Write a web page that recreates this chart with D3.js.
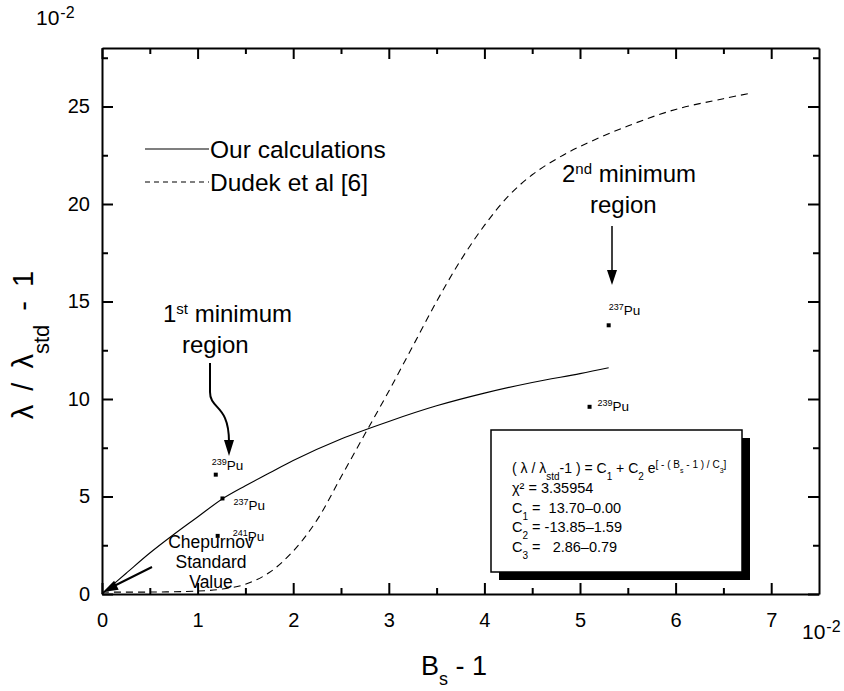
<!DOCTYPE html>
<html>
<head>
<meta charset="utf-8">
<script src="https://cdn.jsdelivr.net/npm/d3@7"></script>
<style>
  body { margin: 0; background: #fff; }
  text { font-family: "Liberation Sans", Arial, Helvetica, sans-serif; fill: #000; }
</style>
</head>
<body>
<div id="chart"></div>
<script>
// our calculations (solid)
const calcX = [0, 0.25, 0.5, 0.75, 1, 1.25, 1.5, 1.75, 2, 2.5, 3, 3.5, 4, 4.5, 5, 5.3];
const calcY = [0, 1.05, 2.1, 3.05, 3.95, 4.85, 5.55, 6.2, 6.85, 7.95, 8.85, 9.65, 10.3, 10.85, 11.3, 11.6];

// Dudek et al [6] (dashed)
const dudekX = [0, 0.5, 1, 1.25, 1.5, 1.75, 2, 2.25, 2.5, 2.75, 3, 3.25, 3.5, 3.75, 4, 4.25, 4.5, 4.75, 5, 5.5, 6, 6.5, 6.8];
const dudekY = [0.1, 0.1, 0.15, 0.25, 0.5, 1.1, 2.2, 3.8, 6.0, 8.2, 10.4, 12.7, 15.0, 17.1, 18.9, 20.4, 21.5, 22.3, 22.95, 24.0, 24.85, 25.4, 25.7];

// isotopes
const isoMass = ["239", "237", "241", "237", "239"];
const isoX = [1.19, 1.26, 1.21, 5.3, 5.1];
const isoY = [6.12, 4.9, 2.98, 13.78, 9.6];

const xTicks = [0, 1, 2, 3, 4, 5, 6, 7];
const xMinor = [0.5, 1.5, 2.5, 3.5, 4.5, 5.5, 6.5];
const yTicks = [0, 5, 10, 15, 20, 25];
const yMinor = [2.5, 7.5, 12.5, 17.5, 22.5, 27.5];

const fitLines = [
  ["\u03C7\u00B2 = 3.35954"],
  ["C", "1", " =  13.70\u20130.00"],
  ["C", "2", " = -13.85\u20131.59"],
  ["C", "3", " =   2.86\u20130.79"]
];

// label offsets for isotope names (px)
const labelDx = [-4, 11, 15, 0, 8];
const labelDy = [-5, 12, 5, -10, 4];

const W = 844, H = 691;
const svg = d3.select("#chart").append("svg")
  .attr("width", W).attr("height", H);

const x = d3.scaleLinear().domain([0, 7.5]).range([102, 819]);
const y = d3.scaleLinear().domain([0, 28]).range([594, 48]);

function styleAxis(g) {
  g.attr("font-family", null).attr("font-size", null);
  g.select(".domain").attr("stroke-width", 2);
  g.selectAll(".tick line").attr("stroke-width", 2);
  g.selectAll(".tick text").attr("font-size", 20);
}

// bottom
svg.append("g").attr("transform", "translate(0," + y(0) + ")")
  .call(d3.axisBottom(x).tickValues(xTicks).tickSize(-11).tickSizeOuter(0).tickPadding(19).tickFormat(d3.format("d")))
  .call(styleAxis);
svg.append("g").attr("transform", "translate(0," + y(0) + ")")
  .call(d3.axisBottom(x).tickValues(xMinor).tickSize(-6).tickFormat(""))
  .call(styleAxis).call(g => g.select(".domain").remove());
// left
svg.append("g").attr("transform", "translate(" + x(0) + ",0)")
  .call(d3.axisLeft(y).tickValues(yTicks).tickSize(-11).tickSizeOuter(0).tickPadding(12))
  .call(styleAxis);
svg.append("g").attr("transform", "translate(" + x(0) + ",0)")
  .call(d3.axisLeft(y).tickValues(yMinor).tickSize(-6).tickFormat(""))
  .call(styleAxis).call(g => g.select(".domain").remove());
// top
svg.append("g").attr("transform", "translate(0," + y(28) + ")")
  .call(d3.axisTop(x).tickValues(xTicks).tickSize(-11).tickSizeOuter(0).tickFormat(""))
  .call(styleAxis);
svg.append("g").attr("transform", "translate(0," + y(28) + ")")
  .call(d3.axisTop(x).tickValues(xMinor).tickSize(-6).tickFormat(""))
  .call(styleAxis).call(g => g.select(".domain").remove());
// right
svg.append("g").attr("transform", "translate(" + x(7.5) + ",0)")
  .call(d3.axisRight(y).tickValues(yTicks).tickSize(-11).tickSizeOuter(0).tickFormat(""))
  .call(styleAxis);
svg.append("g").attr("transform", "translate(" + x(7.5) + ",0)")
  .call(d3.axisRight(y).tickValues(yMinor).tickSize(-6).tickFormat(""))
  .call(styleAxis).call(g => g.select(".domain").remove());

// curves
const line = d3.line().x(d => x(d[0])).y(d => y(d[1])).curve(d3.curveCatmullRom.alpha(0.5));
svg.append("path").datum(calcX.map((v, i) => [v, calcY[i]]))
  .attr("d", line).attr("fill", "none").attr("stroke", "#000").attr("stroke-width", 1.1);
svg.append("path").datum(dudekX.map((v, i) => [v, dudekY[i]]))
  .attr("d", line).attr("fill", "none").attr("stroke", "#000").attr("stroke-width", 1.1)
  .attr("stroke-dasharray", "7,5");

// isotope points
const iso = isoMass.map((m, i) => ({m: m, x: isoX[i], y: isoY[i], dx: labelDx[i], dy: labelDy[i]}));
svg.selectAll("rect.pt").data(iso).enter().append("rect")
  .attr("x", d => x(d.x) - 2).attr("y", d => y(d.y) - 2)
  .attr("width", 4).attr("height", 4).attr("fill", "#000");
const lab = svg.selectAll("text.iso").data(iso).enter().append("text")
  .attr("x", d => x(d.x) + d.dx).attr("y", d => y(d.y) + d.dy);
lab.append("tspan").attr("font-size", 9).attr("dy", -5).text(d => d.m);
lab.append("tspan").attr("font-size", 13.5).attr("dy", 5).text("Pu");

// legend
svg.append("line").attr("x1", 145).attr("x2", 209).attr("y1", 149).attr("y2", 149)
  .attr("stroke", "#000").attr("stroke-width", 1.1);
svg.append("text").attr("x", 210).attr("y", 158).attr("font-size", 24.5).text("Our calculations");
svg.append("line").attr("x1", 145).attr("x2", 209).attr("y1", 182).attr("y2", 182)
  .attr("stroke", "#000").attr("stroke-width", 1.1).attr("stroke-dasharray", "5,4");
svg.append("text").attr("x", 210).attr("y", 191).attr("font-size", 24.5).text("Dudek et al [6]");

// scale factors
function power(xp, yp) {
  const t = svg.append("text").attr("x", xp).attr("y", yp).attr("font-size", 21);
  t.append("tspan").text("10");
  t.append("tspan").attr("font-size", 16).attr("dx", 1).attr("dy", -7).text("-2");
}
power(36, 25);
power(802, 639);

// axis titles
const xt = svg.append("text").attr("x", 421).attr("y", 675).attr("font-size", 27);
xt.append("tspan").text("B");
xt.append("tspan").attr("font-size", 18).attr("dy", 10).text("s");
xt.append("tspan").attr("dy", -10).text(" - 1");

const yt = svg.append("text").attr("transform", "translate(33,345) rotate(-90)")
  .attr("text-anchor", "middle").attr("font-size", 29).attr("word-spacing", 6);
yt.append("tspan").text("\u03BB / \u03BB");
yt.append("tspan").attr("font-size", 22).attr("dy", 16).text("std");
yt.append("tspan").attr("dy", -16).text(" - 1");

// annotations
function supLabel(xp, yp, num, sup, rest) {
  const t = svg.append("text").attr("x", xp).attr("y", yp).attr("font-size", 24);
  t.append("tspan").text(num);
  t.append("tspan").attr("font-size", 15).attr("dy", -8).text(sup);
  t.append("tspan").attr("dy", 8).text(" " + rest);
}
supLabel(163, 322, "1", "st", "minimum");
svg.append("text").attr("x", 182).attr("y", 353).attr("font-size", 24).text("region");
supLabel(562, 182, "2", "nd", "minimum");
svg.append("text").attr("x", 590).attr("y", 213).attr("font-size", 24).text("region");

svg.append("path").attr("d", "M210,363 L210,392 C210,410 229,404 229,442")
  .attr("fill", "none").attr("stroke", "#000").attr("stroke-width", 2);
svg.append("path").attr("d", "M224,440 L234,440 L229,456 Z").attr("fill", "#000");

svg.append("line").attr("x1", 612).attr("x2", 612).attr("y1", 226).attr("y2", 272)
  .attr("stroke", "#000").attr("stroke-width", 1.5);
svg.append("path").attr("d", "M607,270 L617,270 L612,285 Z").attr("fill", "#000");

svg.append("line").attr("x1", 152).attr("y1", 567).attr("x2", 114).attr("y2", 586)
  .attr("stroke", "#000").attr("stroke-width", 2);
svg.append("path").attr("d", "M103,592 L118.7,589.7 L114.1,580.7 Z").attr("fill", "#000");

["Chepurnov", "Standard", "Value"].forEach((s, i) => {
  svg.append("text").attr("x", 211).attr("y", 548 + i * 20).attr("text-anchor", "middle")
    .attr("font-size", 17.5).text(s);
});

// fit box
svg.append("rect").attr("x", 499).attr("y", 438).attr("width", 251).attr("height", 142).attr("fill", "#000");
svg.append("rect").attr("x", 491).attr("y", 430).attr("width", 251).attr("height", 142)
  .attr("fill", "#fff").attr("stroke", "#000").attr("stroke-width", 1.5);

const eq = svg.append("text").attr("x", 512).attr("y", 473).attr("font-size", 14);
eq.append("tspan").text("( \u03BB / \u03BB");
eq.append("tspan").attr("font-size", 10).attr("dy", 7).text("std");
eq.append("tspan").attr("dy", -7).text("-1 ) = C");
eq.append("tspan").attr("font-size", 10).attr("dy", 7).text("1");
eq.append("tspan").attr("dy", -7).text(" + C");
eq.append("tspan").attr("font-size", 10).attr("dy", 7).text("2");
eq.append("tspan").attr("dy", -7).text(" e");
eq.append("tspan").attr("font-size", 10).attr("dy", -5).text("[ - ( B");
eq.append("tspan").attr("font-size", 7).attr("dy", 5).text("s");
eq.append("tspan").attr("font-size", 10).attr("dy", -5).text(" - 1 ) / C");
eq.append("tspan").attr("font-size", 7).attr("dy", 5).text("3");
eq.append("tspan").attr("font-size", 10).attr("dy", -5).text("]");

fitLines.forEach((parts, i) => {
  const t = svg.append("text").attr("x", 512).attr("y", 493 + i * 19.5).attr("font-size", 14.5)
    .style("white-space", "pre");
  if (parts.length === 1) { t.text(parts[0]); return; }
  t.append("tspan").text(parts[0]);
  t.append("tspan").attr("font-size", 10).attr("dy", 7).text(parts[1]);
  t.append("tspan").attr("dy", -7).text(parts[2]);
});
</script>
</body>
</html>
